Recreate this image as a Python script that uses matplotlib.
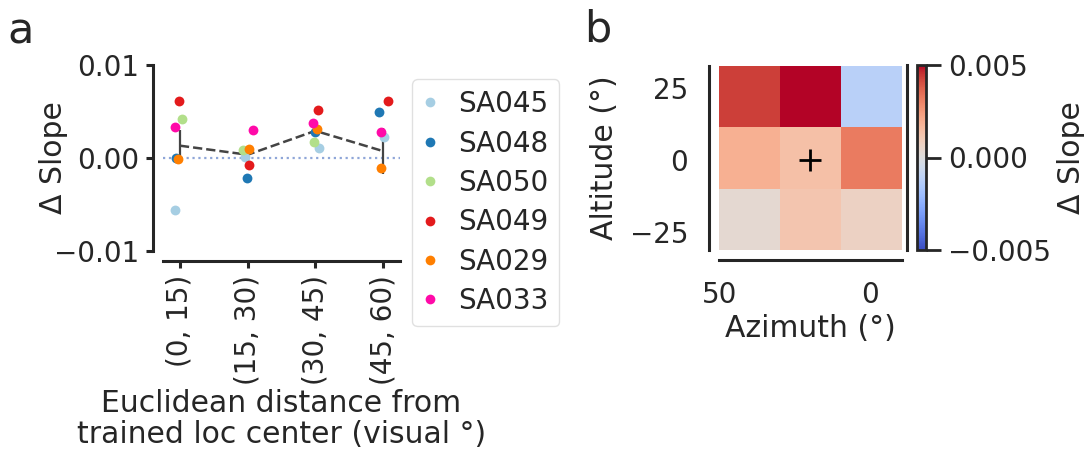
import numpy as np
import matplotlib
matplotlib.use("Agg")
import matplotlib.pyplot as plt
from matplotlib.lines import Line2D

# Panel a: delta slope per mouse for each distance bin
distance_bins = ["(0, 15)", "(15, 30)", "(30, 45)", "(45, 60)"]
mice = ["SA045", "SA048", "SA050", "SA049", "SA029", "SA033"]
mouse_colors = ["#a6cee3", "#1f78b4", "#b2df8a", "#e31a1c", "#ff7f00", "#ff0aa8"]

sa045 = [-0.00563, 0.00014, 0.00104, 0.00222]
sa048 = [0.00003, -0.00215, 0.00280, 0.00498]
sa050 = [0.00416, 0.00086, 0.00169, -0.01070]
sa049 = [0.00616, -0.00075, 0.00516, 0.00616]
sa029 = [-0.00014, 0.00100, 0.00308, -0.00104]
sa033 = [0.00337, 0.00301, 0.00376, 0.00283]
slopes = [sa045, sa048, sa050, sa049, sa029, sa033]

yticks_a = [-0.01, 0.0, 0.01]
ytick_labels_a = ["\u22120.01", "0.00", "0.01"]

# Panel b: delta slope on the altitude x azimuth grid (rows top to bottom)
altitude_ticks = [25, 0, -25]
azimuth_ticks = [50, 0]
heat_top = [0.0043, 0.0056, -0.0012]
heat_mid = [0.0019, 0.0014, 0.0032]
heat_bot = [0.0003, 0.0012, 0.0007]
trained_center = (20, 0)
cbar_ticks = [-0.005, 0.0, 0.005]
cbar_labels = ["\u22120.005", "0.000", "0.005"]

DARK = "#262626"
W, H = 1084, 449
plt.rcParams.update({
    "font.family": "DejaVu Sans",
    "text.color": DARK,
    "axes.labelcolor": DARK,
    "xtick.color": DARK,
    "ytick.color": DARK,
    "axes.edgecolor": DARK,
    "axes.linewidth": 2.2,
})

fig = plt.figure(figsize=(W / 100, H / 100), dpi=100)


def px_axes(left, top, right, bottom):
    return fig.add_axes([left / W, 1 - bottom / H, (right - left) / W, (bottom - top) / H])


# ---------------- panel a ----------------
ax = px_axes(163, 65, 400, 251)
data = np.array(slopes)
xs = np.arange(len(distance_bins))
rng = np.random.default_rng(3)
for i, name in enumerate(mice):
    jit = rng.uniform(-0.08, 0.08, len(xs))
    ax.scatter(xs + jit, data[i], s=50, color=mouse_colors[i], linewidths=0, zorder=3)

mean = data.mean(axis=0)
sem = data.std(axis=0, ddof=1) / np.sqrt(data.shape[0])
ax.vlines(xs, mean - sem, mean + sem, color="#444444", lw=1.6, zorder=2)
ax.plot(xs, mean, ls="--", color="#444444", lw=1.8, zorder=2)
ax.axhline(0, ls=":", color="#8fa6d8", lw=1.6, zorder=1)

ax.set_xlim(-0.25, 3.25)
ax.set_ylim(-0.01, 0.01)
ax.set_xticks(xs)
ax.set_xticklabels(distance_bins)
ax.set_yticks(yticks_a)
ax.set_yticklabels(ytick_labels_a)
ax.tick_params(labelsize=20, length=5, width=2.2, pad=5)
ax.tick_params(axis="x", labelrotation=90)
ax.set_ylabel("\u0394 Slope", fontsize=21.5)
ax.yaxis.set_label_coords(-0.40, 0.5)
ax.set_xlabel("Euclidean distance from\ntrained loc center (visual \u00b0)", fontsize=21.5,
              labelpad=3, linespacing=1.1)
for side in ["top", "right"]:
    ax.spines[side].set_visible(False)
for side in ["left", "bottom"]:
    ax.spines[side].set_position(("outward", 7.2))

handles = [Line2D([], [], ls="", marker="o", ms=7, color=c, mew=0) for c in mouse_colors]
fig.legend(handles, mice, loc="upper left", bbox_to_anchor=(412 / W, 1 - 79 / H),
           borderaxespad=0, fontsize=20, handlelength=0.5, handletextpad=0.75,
           labelspacing=0.41, borderpad=0.4, frameon=True, edgecolor="0.85", fancybox=True)

# ---------------- panel b ----------------
axh = px_axes(719, 66, 902, 250)
grid = np.array([heat_top, heat_mid, heat_bot])
im = axh.imshow(grid, cmap="coolwarm", vmin=-0.005, vmax=0.005,
                extent=(50.2, -10.8, -31.2, 32.5), aspect="auto", interpolation="nearest")
axh.plot(*trained_center, marker="+", ms=16, mew=2, color="black")
axh.set_xticks(azimuth_ticks)
axh.set_yticks(altitude_ticks)
axh.tick_params(labelsize=20, length=0, pad=15)
axh.set_xlabel("Azimuth (\u00b0)", fontsize=21.5, labelpad=4)
axh.set_ylabel("Altitude (\u00b0)", fontsize=21.5, labelpad=8)
for side in ["top", "right"]:
    axh.spines[side].set_visible(False)
for side in ["left", "bottom"]:
    axh.spines[side].set_position(("outward", 7.2))

cax = px_axes(917, 65, 926, 250)
cb = fig.colorbar(im, cax=cax)
cb.outline.set_linewidth(2.0)
cb.outline.set_edgecolor(DARK)
cb.set_ticks(cbar_ticks)
cb.set_ticklabels(cbar_labels)
cax.tick_params(labelsize=20, length=11, width=2.0, pad=5)
cax.spines["left"].set_visible(True)
cax.spines["left"].set_linewidth(2.2)
cax.spines["left"].set_position(("outward", 7.2))
cb.set_label("\u0394 Slope", fontsize=21.5, labelpad=4)

fig.text(7 / W, 1 - 43 / H, "a", fontsize=31, va="baseline", ha="left")
fig.text(584 / W, 1 - 42 / H, "b", fontsize=31, va="baseline", ha="left")

fig.savefig("out.png", dpi=100)
